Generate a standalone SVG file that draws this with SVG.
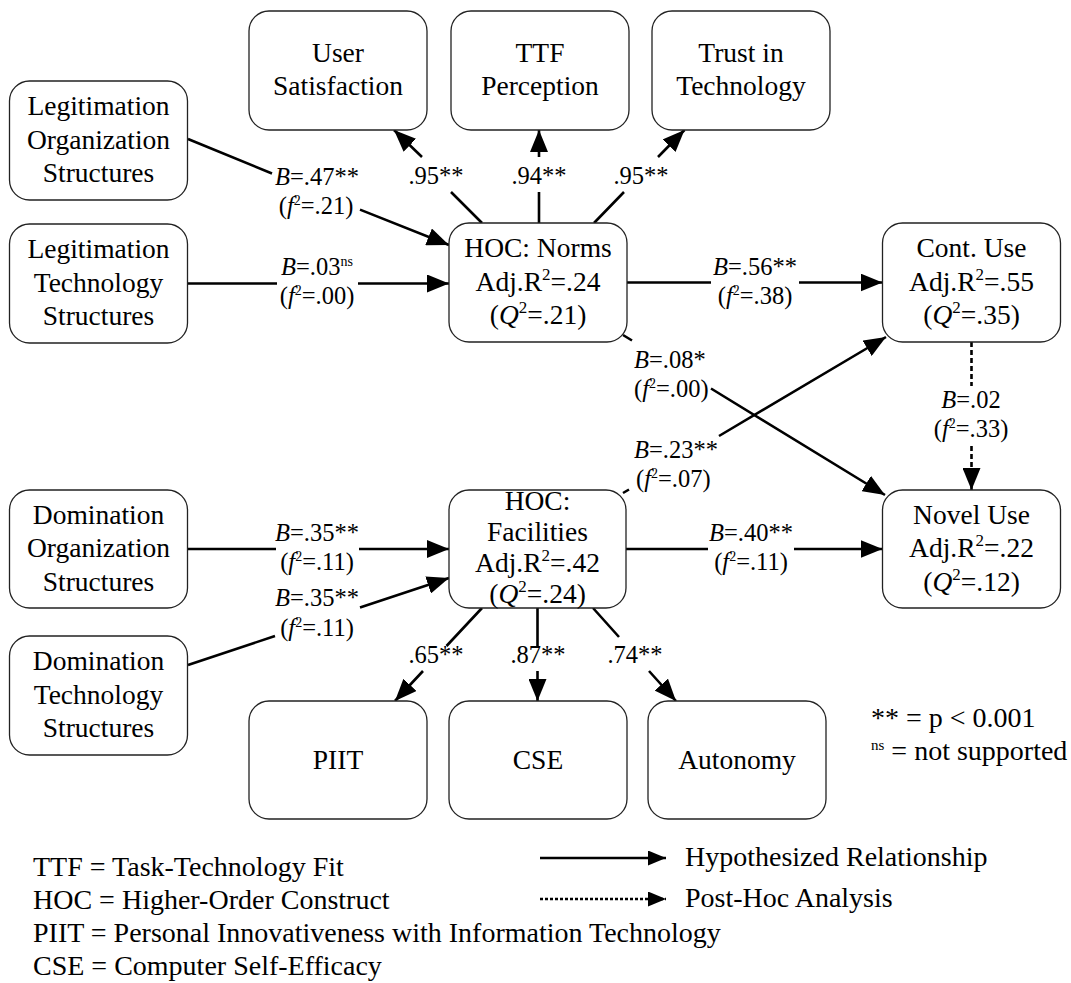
<svg xmlns="http://www.w3.org/2000/svg" width="1071" height="983" viewBox="0 0 1071 983">
<defs>
<style>
.box{fill:#fff;stroke:#222;stroke-width:1.3}
.bt{font-family:"Liberation Serif","Times New Roman",serif;font-size:27.5px;fill:#000;text-anchor:middle}
.lb{font-family:"Liberation Serif","Times New Roman",serif;font-size:24.5px;fill:#000;text-anchor:middle}
.lg{font-family:"Liberation Serif","Times New Roman",serif;font-size:28px;fill:#000}
.st{text-anchor:start}
.c{fill:none;stroke:#000;stroke-width:2.6;marker-end:url(#ah)}
.d{stroke-dasharray:5,3}
.i{font-style:italic}
</style>
<marker id="ah" markerUnits="userSpaceOnUse" markerWidth="22" markerHeight="18" refX="22" refY="9" orient="auto"><path d="M0,0 L22,9 L0,18 z" fill="#000"/></marker>
<marker id="ahs" markerUnits="userSpaceOnUse" markerWidth="18" markerHeight="15" refX="18" refY="7.5" orient="auto"><path d="M0,0 L18,7.5 L0,15 z" fill="#000"/></marker>
</defs>
<rect width="1071" height="983" fill="#fff"/>

<g id="connectors">
<path class="c" d="M188,139 L272,173.5 M360,209.6 L449,245"/>
<path class="c" d="M188,283.5 L277,283.5 M358,283.5 L449,283.5"/>
<path class="c" d="M482,223 L451,192 M422,157 L394,130"/>
<path class="c" d="M539,223 L539,192 M539,157 L539,130"/>
<path class="c" d="M594,223 L624,192 M658,157 L684.5,130"/>
<path class="c" d="M627,282.5 L711,282.5 M799,282.5 L882.5,282.5"/>
<path class="c" d="M623,335 L632,340.5 M711,388.5 L885,495"/>
<path class="c" d="M623,493 L629,489.5 M719,436 L886,337"/>
<path class="c d" d="M971.5,342 L971.5,386 M971.5,446 L971.5,490"/>
<path class="c" d="M188,549 L276,549 M359,549 L449,549"/>
<path class="c" d="M188,665 L275,636 M360,607.5 L449,578"/>
<path class="c" d="M626,549 L708,549 M794,549 L882.5,549"/>
<path class="c" d="M482,608 L446.5,646 M423,671 L395,701"/>
<path class="c" d="M537.5,608 L537.5,646 M537.5,671 L537.5,701"/>
<path class="c" d="M593,608 L619,637 M649,671 L676,701"/>
</g>

<g id="edge-labels">
<text class="lb" x="317" y="185"><tspan class="i">B</tspan>=.47**</text>
<text class="lb" x="316" y="214">(<tspan class="i">f</tspan><tspan font-size="14" dy="-9">2</tspan><tspan dy="9">=.21)</tspan></text>
<text class="lb" x="317" y="275"><tspan class="i">B</tspan>=.03<tspan font-size="14" dy="-9">ns</tspan></text>
<text class="lb" x="317" y="304">(<tspan class="i">f</tspan><tspan font-size="14" dy="-9">2</tspan><tspan dy="9">=.00)</tspan></text>
<text class="lb" x="436" y="184">.95**</text>
<text class="lb" x="539" y="184">.94**</text>
<text class="lb" x="641" y="184">.95**</text>
<text class="lb" x="755" y="275"><tspan class="i">B</tspan>=.56**</text>
<text class="lb" x="755" y="304">(<tspan class="i">f</tspan><tspan font-size="14" dy="-9">2</tspan><tspan dy="9">=.38)</tspan></text>
<text class="lb st" x="634" y="368"><tspan class="i">B</tspan>=.08*</text>
<text class="lb st" x="634" y="397">(<tspan class="i">f</tspan><tspan font-size="14" dy="-9">2</tspan><tspan dy="9">=.00)</tspan></text>
<text class="lb st" x="634" y="458"><tspan class="i">B</tspan>=.23**</text>
<text class="lb st" x="636" y="487">(<tspan class="i">f</tspan><tspan font-size="14" dy="-9">2</tspan><tspan dy="9">=.07)</tspan></text>
<text class="lb" x="971" y="408"><tspan class="i">B</tspan>=.02</text>
<text class="lb" x="971" y="437">(<tspan class="i">f</tspan><tspan font-size="14" dy="-9">2</tspan><tspan dy="9">=.33)</tspan></text>
<text class="lb" x="317" y="541"><tspan class="i">B</tspan>=.35**</text>
<text class="lb" x="317" y="570">(<tspan class="i">f</tspan><tspan font-size="14" dy="-9">2</tspan><tspan dy="9">=.11)</tspan></text>
<text class="lb" x="317" y="606"><tspan class="i">B</tspan>=.35**</text>
<text class="lb" x="317" y="636">(<tspan class="i">f</tspan><tspan font-size="14" dy="-9">2</tspan><tspan dy="9">=.11)</tspan></text>
<text class="lb" x="751" y="541"><tspan class="i">B</tspan>=.40**</text>
<text class="lb" x="751" y="570">(<tspan class="i">f</tspan><tspan font-size="14" dy="-9">2</tspan><tspan dy="9">=.11)</tspan></text>
<text class="lb" x="436" y="663">.65**</text>
<text class="lb" x="538" y="663">.87**</text>
<text class="lb" x="635" y="663">.74**</text>
</g>

<g id="leg-org">
<rect class="box" x="9.5" y="81" width="178" height="119" rx="20"/>
<text class="bt" x="98.5" y="115">Legitimation</text>
<text class="bt" x="98.5" y="148.5">Organization</text>
<text class="bt" x="98.5" y="182">Structures</text>
</g>
<g id="leg-tech">
<rect class="box" x="9.5" y="224" width="178" height="119" rx="20"/>
<text class="bt" x="98.5" y="258">Legitimation</text>
<text class="bt" x="98.5" y="291.5">Technology</text>
<text class="bt" x="98.5" y="325">Structures</text>
</g>
<g id="dom-org">
<rect class="box" x="9.5" y="490" width="178" height="118" rx="20"/>
<text class="bt" x="98.5" y="523.5">Domination</text>
<text class="bt" x="98.5" y="557">Organization</text>
<text class="bt" x="98.5" y="590.5">Structures</text>
</g>
<g id="dom-tech">
<rect class="box" x="9.5" y="636" width="178" height="119" rx="20"/>
<text class="bt" x="98.5" y="670">Domination</text>
<text class="bt" x="98.5" y="703.5">Technology</text>
<text class="bt" x="98.5" y="737">Structures</text>
</g>
<g id="user-sat">
<rect class="box" x="249" y="11" width="178" height="119" rx="20"/>
<text class="bt" x="338" y="62">User</text>
<text class="bt" x="338" y="95">Satisfaction</text>
</g>
<g id="ttf">
<rect class="box" x="451" y="11" width="178" height="119" rx="20"/>
<text class="bt" x="540" y="62">TTF</text>
<text class="bt" x="540" y="95">Perception</text>
</g>
<g id="trust">
<rect class="box" x="652" y="11" width="178" height="119" rx="20"/>
<text class="bt" x="741" y="62">Trust in</text>
<text class="bt" x="741" y="95">Technology</text>
</g>
<g id="hoc-norms">
<rect class="box" x="449" y="223" width="178" height="119" rx="20"/>
<text class="bt" x="538" y="257">HOC: Norms</text>
<text class="bt" x="538" y="290.5">Adj.R<tspan font-size="17" dy="-11">2</tspan><tspan dy="11">=.24</tspan></text>
<text class="bt" x="538" y="324">(<tspan class="i">Q</tspan><tspan font-size="17" dy="-11">2</tspan><tspan dy="11">=.21)</tspan></text>
</g>
<g id="cont-use">
<rect class="box" x="882.5" y="223" width="178" height="119" rx="20"/>
<text class="bt" x="971.5" y="257">Cont. Use</text>
<text class="bt" x="971.5" y="290.5">Adj.R<tspan font-size="17" dy="-11">2</tspan><tspan dy="11">=.55</tspan></text>
<text class="bt" x="971.5" y="324">(<tspan class="i">Q</tspan><tspan font-size="17" dy="-11">2</tspan><tspan dy="11">=.35)</tspan></text>
</g>
<g id="hoc-facilities">
<rect class="box" x="449" y="490" width="177" height="118" rx="20"/>
<text class="bt" x="537.5" y="510">HOC:</text>
<text class="bt" x="537.5" y="541">Facilities</text>
<text class="bt" x="537.5" y="572">Adj.R<tspan font-size="17" dy="-11">2</tspan><tspan dy="11">=.42</tspan></text>
<text class="bt" x="537.5" y="603">(<tspan class="i">Q</tspan><tspan font-size="17" dy="-11">2</tspan><tspan dy="11">=.24)</tspan></text>
</g>
<g id="novel-use">
<rect class="box" x="882.5" y="490" width="178" height="118" rx="20"/>
<text class="bt" x="971.5" y="523.5">Novel Use</text>
<text class="bt" x="971.5" y="557">Adj.R<tspan font-size="17" dy="-11">2</tspan><tspan dy="11">=.22</tspan></text>
<text class="bt" x="971.5" y="590.5">(<tspan class="i">Q</tspan><tspan font-size="17" dy="-11">2</tspan><tspan dy="11">=.12)</tspan></text>
</g>
<g id="piit">
<rect class="box" x="249" y="701" width="178" height="118" rx="20"/>
<text class="bt" x="338" y="769">PIIT</text>
</g>
<g id="cse">
<rect class="box" x="449" y="701" width="178" height="118" rx="20"/>
<text class="bt" x="538" y="769">CSE</text>
</g>
<g id="autonomy">
<rect class="box" x="648" y="701" width="178" height="118" rx="20"/>
<text class="bt" x="737" y="769">Autonomy</text>
</g>

<g id="legend">
<text class="lg" x="871" y="727">** = p &lt; 0.001</text>
<text class="lg" x="871" y="760"><tspan font-size="15" dy="-10">ns</tspan><tspan dy="10"> = not supported</tspan></text>
<path d="M540,858 L666,858" fill="none" stroke="#000" stroke-width="2.6" marker-end="url(#ahs)"/>
<path d="M540,899 L666,899" fill="none" stroke="#000" stroke-width="2.6" stroke-dasharray="3,2" marker-end="url(#ahs)"/>
<text class="lg" x="685" y="866">Hypothesized Relationship</text>
<text class="lg" x="685" y="907">Post-Hoc Analysis</text>
<text class="lg" x="33" y="876">TTF = Task-Technology Fit</text>
<text class="lg" x="33" y="909">HOC = Higher-Order Construct</text>
<text class="lg" x="33" y="942">PIIT = Personal Innovativeness with Information Technology</text>
<text class="lg" x="33" y="975">CSE = Computer Self-Efficacy</text>
</g>
</svg>
